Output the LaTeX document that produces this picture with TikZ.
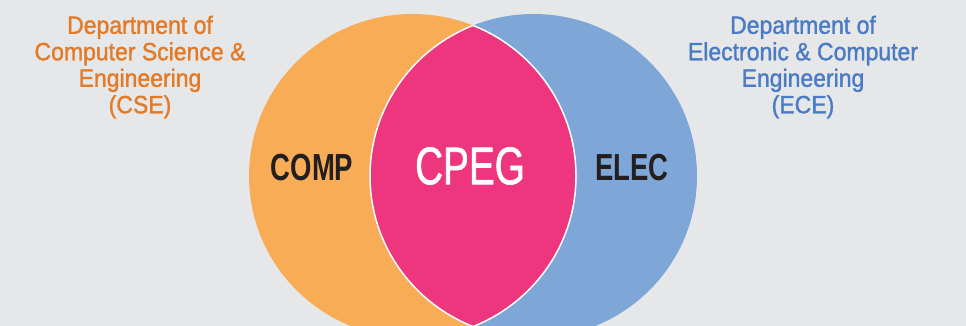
\documentclass[tikz,border=0pt]{standalone}
\usepackage{fontspec}
\setmainfont{Liberation Sans}[FakeStretch=0.92,FakeBold=1.3]
\newfontfamily\narrowfont{Liberation Sans}[FakeStretch=0.73]
\newfontfamily\cpegfont{Liberation Sans}[FakeStretch=0.73,FakeBold=1.2]
\definecolor{bggray}{HTML}{E6E7E8}
\definecolor{cseorange}{HTML}{F9AC56}
\definecolor{eceblue}{HTML}{7EA7D8}
\definecolor{cpegpink}{HTML}{EE367F}
\definecolor{csetext}{HTML}{E37A27}
\definecolor{ecetext}{HTML}{4A7BC4}
\definecolor{darktext}{HTML}{231F20}
\begin{document}
\begin{tikzpicture}[x=1pt,y=-1pt,line join=round]
	\tikzset{dept/.style={align=center,inner sep=0pt,anchor=north,font=\fontsize{25}{26.5}\selectfont},
		big/.style={inner sep=0pt,font=\narrowfont\bfseries\fontsize{37.7}{40}\selectfont,text=darktext},
		oval/.style={x radius=163.5pt,y radius=162pt}}
	\useasboundingbox (0,0) rectangle (966,326);
	\fill[bggray] (0,0) rectangle (966,326);
	\fill[cseorange] (412.5,176) ellipse [oval];
	\fill[eceblue] (533.5,176) ellipse [oval];
	% overlap of the two departments
	\begin{scope}
		\clip (412.5,176) ellipse [oval];
		\fill[cpegpink] (533.5,176) ellipse [oval];
		\draw[white!90!bggray,line width=1.5pt] (533.5,176) ellipse [oval];
	\end{scope}
	\begin{scope}
		\clip (533.5,176) ellipse [oval];
		\draw[white!90!bggray,line width=1.5pt] (412.5,176) ellipse [oval];
	\end{scope}
	\node[dept,text=csetext] (cse) at (140,15.5) {Department of\\Computer Science \&\\Engineering\\(CSE)};
	\node[dept,text=ecetext] (ece) at (803,15.5) {Department of\\Electronic \& Computer\\Engineering\\(ECE)};
	\node[big] (comp) at (312,168) {COMP};
	\node[big] (elec) at (632,168) {ELEC};
	\node[inner sep=0pt,font=\cpegfont\fontsize{53}{56}\selectfont,text=white] (cpeg) at (470,166) {CPEG};
\end{tikzpicture}
\end{document}
